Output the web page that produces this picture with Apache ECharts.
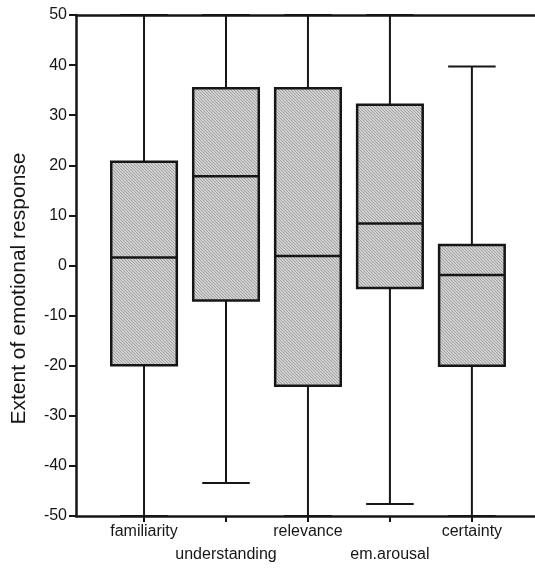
<!DOCTYPE html>
<html>
<head>
<meta charset="utf-8">
<script src="https://cdn.jsdelivr.net/npm/echarts@6/dist/echarts.min.js"></script>
<style>
  html, body { margin: 0; padding: 0; background: #fff; }
  #chart { width: 535px; height: 569px; }
</style>
</head>
<body>
<div id="chart"></div>
<script>
// box plot values
var categories = ['familiarity', 'understanding', 'relevance', 'em.arousal', 'certainty'];
var whiskerLow = [-50, -43.4, -50, -47.6, -50];
var q1 = [-19.9, -7, -24, -4.5, -20];
var median = [1.6, 17.8, 1.9, 8.4, -1.9];
var q3 = [20.7, 35.4, 35.4, 32.1, 4.1];
var whiskerHigh = [50, 50, 50, 50, 39.7];
var yTicks = [-50, -40, -30, -20, -10, 0, 10, 20, 30, 40, 50];
// labels alternate between two rows under the axis
var upperRow = [1, 3, 5];
var lowerRow = [2, 4];

var textFont = 'Liberation Sans, Arial, sans-serif';
var ink = '#161616';

// hatched grey fill used by the boxes
function makeHatch() {
  var c = document.createElement('canvas');
  c.width = 3; c.height = 3;
  var ctx = c.getContext('2d');
  ctx.fillStyle = '#d0d0d0';
  ctx.fillRect(0, 0, 3, 3);
  ctx.fillStyle = '#a2a2a2';
  for (var i = 0; i < 3; i++) {
    ctx.fillRect(i, i, 1, 1);
  }
  return c;
}
var hatch = makeHatch();

var boxData = categories.map(function (name, i) {
  return [i + 1, whiskerLow[i], q1[i], median[i], q3[i], whiskerHigh[i]];
});

function catName(v) {
  return categories[Math.round(v) - 1];
}

var myChart = echarts.init(document.getElementById('chart'));

var xMin = 0.17, xMax = 5.77;

var option = {
  animation: false,
  backgroundColor: '#fff',
  grid: {
    left: 76,
    right: 0,
    top: 15,
    bottom: 53
  },
  xAxis: [{
    type: 'value',
    min: xMin,
    max: xMax,
    splitLine: { show: false },
    axisLine: { onZero: false, lineStyle: { color: ink, width: 2.5 } },
    axisTick: {
      show: true,
      length: 6,
      customValues: upperRow,
      lineStyle: { color: ink, width: 2 }
    },
    axisLabel: {
      customValues: upperRow,
      showMinLabel: true,
      showMaxLabel: true,
      margin: 8,
      color: ink,
      fontSize: 16,
      fontFamily: textFont,
      formatter: catName
    }
  }, {
    // top frame line
    type: 'value',
    position: 'top',
    min: xMin,
    max: xMax,
    splitLine: { show: false },
    axisLine: { onZero: false, lineStyle: { color: ink, width: 2.5 } },
    axisTick: { show: false },
    axisLabel: { show: false }
  }, {
    // second row of labels
    type: 'value',
    position: 'bottom',
    offset: 0,
    min: xMin,
    max: xMax,
    splitLine: { show: false },
    axisLine: { show: false, onZero: false },
    axisTick: {
      show: true,
      length: 6,
      customValues: lowerRow,
      lineStyle: { color: ink, width: 2 }
    },
    axisLabel: {
      customValues: lowerRow,
      showMinLabel: true,
      showMaxLabel: true,
      margin: 31,
      color: ink,
      fontSize: 16,
      fontFamily: textFont,
      formatter: catName
    }
  }],
  yAxis: {
    type: 'value',
    min: -50,
    max: 50,
    interval: 10,
    splitLine: { show: false },
    name: 'Extent of emotional response',
    nameLocation: 'middle',
    nameGap: 46,
    nameTextStyle: {
      color: ink,
      fontSize: 21,
      fontFamily: textFont,
      padding: [0, 46, 0, 0]
    },
    axisLine: { onZero: false, lineStyle: { color: ink, width: 2.5 } },
    axisTick: { show: true, length: 7, lineStyle: { color: ink, width: 2 } },
    axisLabel: {
      margin: 9,
      color: ink,
      fontSize: 16,
      fontFamily: textFont,
      customValues: yTicks
    }
  },
  series: [{
    type: 'custom',
    clip: false,
    data: boxData,
    renderItem: function (params, api) {
      var x = api.value(0);
      var lo = api.coord([x, api.value(1)]);
      var b1 = api.coord([x, api.value(2)]);
      var md = api.coord([x, api.value(3)]);
      var b3 = api.coord([x, api.value(4)]);
      var hi = api.coord([x, api.value(5)]);
      var boxW = api.size([0.8, 0])[0];
      var capW = api.size([0.58, 0])[0];
      var cx = lo[0];
      var lineStyle = { stroke: ink, lineWidth: 2 };
      return {
        type: 'group',
        children: [
          { type: 'line', shape: { x1: cx, y1: hi[1], x2: cx, y2: b3[1] }, style: lineStyle },
          { type: 'line', shape: { x1: cx, y1: b1[1], x2: cx, y2: lo[1] }, style: lineStyle },
          { type: 'line', shape: { x1: cx - capW / 2, y1: hi[1], x2: cx + capW / 2, y2: hi[1] }, style: lineStyle },
          { type: 'line', shape: { x1: cx - capW / 2, y1: lo[1], x2: cx + capW / 2, y2: lo[1] }, style: lineStyle },
          {
            type: 'rect',
            shape: { x: cx - boxW / 2, y: b3[1], width: boxW, height: b1[1] - b3[1] },
            style: { fill: { image: hatch, repeat: 'repeat' }, stroke: ink, lineWidth: 2.5 }
          },
          { type: 'line', shape: { x1: cx - boxW / 2, y1: md[1], x2: cx + boxW / 2, y2: md[1] }, style: { stroke: ink, lineWidth: 2.5 } }
        ]
      };
    }
  }]
};

myChart.setOption(option);
</script>
</body>
</html>
